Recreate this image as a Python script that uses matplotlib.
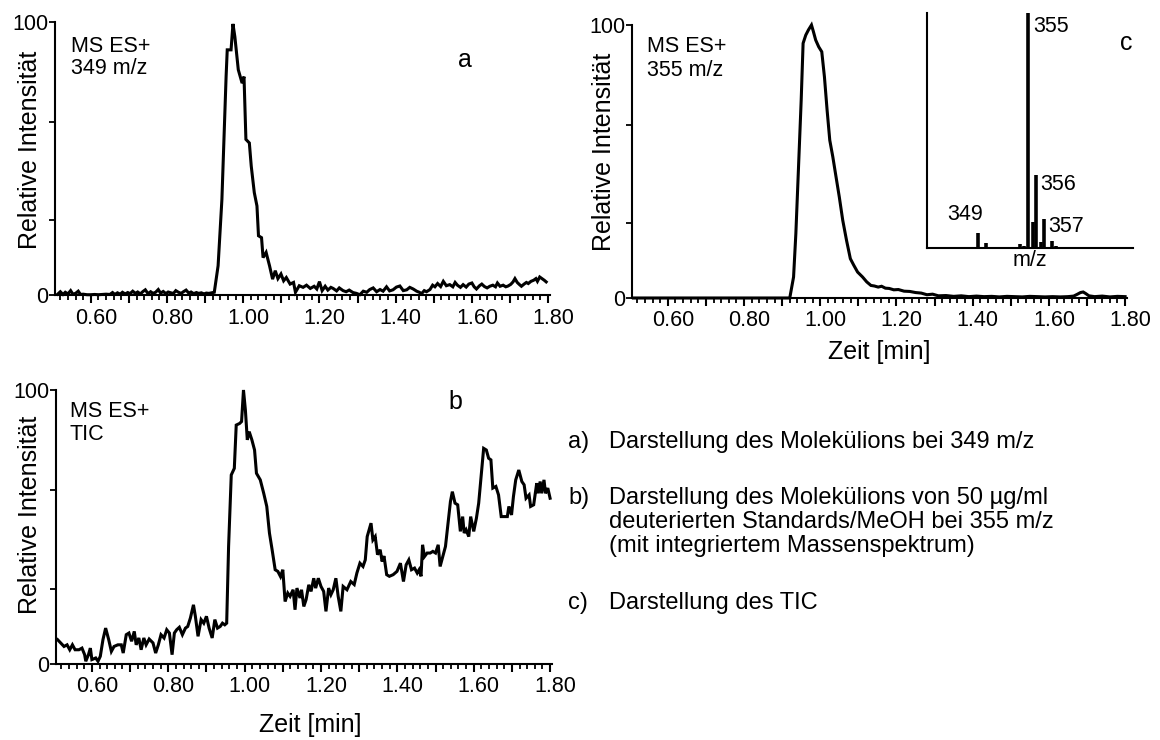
import numpy as np
import matplotlib
matplotlib.use("Agg")
import matplotlib.pyplot as plt
from matplotlib.ticker import MultipleLocator, FuncFormatter
from matplotlib.transforms import ScaledTranslation

plt.rcParams['font.family'] = ['Liberation Sans', 'DejaVu Sans']

# ---- data ----
# a) 349 m/z chromatogram
a_t = [0.513, 0.52, 0.527, 0.533, 0.54, 0.547, 0.553, 0.56, 0.567, 0.573, 0.58, 0.59, 0.60, 0.61,
       0.62, 0.63, 0.64, 0.65, 0.657, 0.663, 0.67, 0.677, 0.683, 0.69, 0.697, 0.703, 0.71, 0.717,
       0.723, 0.73, 0.737, 0.743, 0.75, 0.757, 0.763, 0.77, 0.777, 0.783, 0.79, 0.797, 0.803, 0.81,
       0.817, 0.823, 0.83, 0.837, 0.843, 0.85, 0.857, 0.863, 0.87, 0.877, 0.883, 0.89, 0.897, 0.903,
       0.91, 0.917, 0.924, 0.934, 0.944, 0.955, 0.958, 0.968, 0.973, 0.978, 0.987, 0.997, 1.002,
       1.007, 1.016, 1.021, 1.029, 1.036, 1.04, 1.048, 1.052, 1.06, 1.069, 1.077, 1.084, 1.091, 1.099,
       1.106, 1.113, 1.123, 1.132, 1.137, 1.147, 1.157, 1.166, 1.176, 1.186, 1.193, 1.2, 1.207, 1.215,
       1.222, 1.23, 1.236, 1.245, 1.252, 1.262, 1.27, 1.278, 1.288, 1.297, 1.306, 1.315, 1.324, 1.332,
       1.341, 1.35, 1.359, 1.367, 1.376, 1.384, 1.393, 1.402, 1.411, 1.42, 1.429, 1.437, 1.446, 1.455,
       1.462, 1.468, 1.475, 1.481, 1.49, 1.497, 1.503, 1.51, 1.518, 1.525, 1.533, 1.542, 1.55, 1.556,
       1.562, 1.57, 1.577, 1.585, 1.592, 1.6, 1.606, 1.612, 1.62, 1.626, 1.633, 1.64, 1.647, 1.655,
       1.662, 1.667, 1.674, 1.682, 1.689, 1.695, 1.702, 1.708, 1.713, 1.719, 1.725, 1.73, 1.737, 1.743,
       1.748, 1.755, 1.762, 1.768, 1.772, 1.778, 1.784, 1.79, 1.795]
a_y = [0.3, 1.2, 0.2, 1.0, 0.4, 1.6, 0.3, 0.6, 1.4, 0.2, 0.3, 0.1, 0.1, 0.2,
       0.1, 0.2, 0.3, 0.2, 0.9, 0.2, 0.8, 0.3, 1.0, 0.4, 0.9, 0.5, 1.4, 0.6,
       1.1, 0.4, 1.3, 1.9, 0.5, 1.2, 0.6, 1.0, 2.0, 0.7, 1.3, 0.5, 1.1, 0.8,
       0.6, 1.6, 1.0, 0.6, 1.2, 1.8, 0.7, 1.1, 0.5, 0.9, 0.6, 0.8, 0.4, 0.7,
       0.6, 0.8, 1.0, 10.7, 35, 80, 89.8, 89.8, 99.3, 94.6, 82.5, 77.6, 80,
       57, 55.7, 47.2, 37.5, 32.6, 21.7, 21, 13.7, 15.6, 10.7, 5.8, 8.9, 6, 7.7,
       5.2, 6.4, 4, 4.6, 1, 3.4, 2.8, 3.6, 2.4, 3.2, 2.2, 4.9, 1.6, 3.2,
       1.8, 2.8, 2.4, 1.5, 2.6, 1.6, 1.2, 1.8, 0.9, 0.6, 0.1, 1.4, 1.0, 2.0,
       2.6, 1.2, 2.0, 1.4, 3.0, 1.5, 1.9, 2.9, 3.3, 1.6, 1.9, 2.8, 2.2, 1.4,
       1.0, 0.5, 1.6, 1.2, 2.0, 3.6, 3.0, 4.2, 3.1, 5.0, 3.4, 3.8, 3.0, 4.6,
       3.6, 2.8, 3.8, 2.9, 4.0, 4.4, 3.0, 2.2, 3.4, 4.0, 3.1, 2.6, 3.2, 3.6,
       3.0, 4.4, 3.2, 3.6, 3.0, 3.3, 3.9, 4.8, 6.0, 4.6, 3.8, 3.2, 4.0, 4.6,
       4.2, 5.0, 5.4, 6.0, 5.0, 6.6, 6.0, 5.4, 4.8]

# b) TIC
b_t = [0.51, 0.518, 0.527, 0.535, 0.542, 0.549, 0.556, 0.566, 0.574, 0.581, 0.584, 0.591, 0.596,
       0.60, 0.61, 0.616, 0.622, 0.629, 0.636, 0.644, 0.651, 0.658, 0.668, 0.677, 0.682, 0.69,
       0.697, 0.704, 0.711, 0.716, 0.723, 0.729, 0.736, 0.742, 0.75, 0.76, 0.767, 0.774, 0.781,
       0.789, 0.796, 0.803, 0.81, 0.816, 0.822, 0.829, 0.837, 0.845, 0.851, 0.858, 0.866, 0.871,
       0.878, 0.886, 0.893, 0.90, 0.907, 0.915, 0.922, 0.929, 0.936, 0.942, 0.948, 0.953, 0.958,
       0.965, 0.973, 0.978, 0.987, 0.992, 0.997, 1.002, 1.007, 1.012, 1.019, 1.026, 1.031, 1.041,
       1.05, 1.058, 1.065, 1.072, 1.08, 1.087, 1.094, 1.10, 1.106, 1.113, 1.119, 1.127, 1.132,
       1.137, 1.145, 1.149, 1.155, 1.161, 1.168, 1.174, 1.181, 1.186, 1.193, 1.20, 1.207, 1.213,
       1.22, 1.226, 1.232, 1.239, 1.245, 1.252, 1.258, 1.268, 1.278, 1.287, 1.294, 1.302, 1.31,
       1.316, 1.321, 1.331, 1.336, 1.342, 1.348, 1.355, 1.36, 1.365, 1.372, 1.379, 1.389, 1.399,
       1.408, 1.416, 1.423, 1.43, 1.437, 1.445, 1.452, 1.457, 1.462, 1.466, 1.471, 1.478, 1.486,
       1.493, 1.50, 1.507, 1.512, 1.519, 1.526, 1.534, 1.539, 1.544, 1.551, 1.558, 1.565, 1.571,
       1.575, 1.58, 1.587, 1.592, 1.60, 1.607, 1.613, 1.621, 1.626, 1.633, 1.639, 1.645, 1.65,
       1.658, 1.665, 1.672, 1.68, 1.688, 1.692, 1.699, 1.704, 1.71, 1.718, 1.726, 1.732, 1.737,
       1.745, 1.749, 1.757, 1.765, 1.769, 1.774, 1.778, 1.784, 1.788, 1.794, 1.80]
b_y = [8.9, 7.7, 6.4, 7.0, 5.2, 7.0, 5.2, 5.2, 5.8, 3.4, 1.0, 3.4, 5.8,
       1.6, 2.2, 1.0, 2.8, 8.9, 13.1, 8.9, 4.6, 6.4, 7.0, 7.0, 4.0, 10.7,
       11.3, 8.3, 11.9, 7.0, 9.5, 5.2, 9.5, 7.0, 9.1, 7.7, 4.0, 7.0, 10.7,
       9.5, 12.5, 11.3, 3.4, 11.3, 12.5, 13.4, 10.7, 13.1, 13.7, 16.8, 21.6, 17.4,
       10.1, 16.2, 14.9, 17.4, 13.1, 9.5, 16.2, 13.1, 13.7, 14.9, 14.3, 14.9, 42.9,
       69.0, 71.4, 87.2, 87.8, 88.5, 100.0, 92.7, 81.8, 84.8, 81.8, 78.1, 69.6, 67.2,
       62.3, 57.5, 47.8, 41.7, 34.4, 33.8, 31.9, 34.4, 22.8, 25.9, 24.7, 27.1, 19.8,
       27.7, 24.1, 27.1, 21.0, 23.5, 28.9, 26.5, 31.3, 27.7, 31.3, 28.3, 26.5, 19.2,
       27.7, 25.3, 27.1, 31.3, 24.7, 19.2, 28.3, 27.1, 30.1, 29.0, 33.2, 36.8, 35.6,
       38.0, 46.5, 51.4, 45.3, 46.5, 39.9, 41.7, 37.4, 39.4, 32.6, 32.0, 32.6, 33.8,
       36.8, 30.1, 36.2, 38.0, 34.4, 35.0, 33.2, 34.4, 32.0, 43.5, 39.2, 40.5, 40.5,
       41.1, 40.5, 43.5, 35.6, 39.2, 42.9, 53.2, 59.3, 62.9, 58.7, 58.1, 48.4, 53.8,
       47.8, 49.0, 46.5, 53.8, 48.4, 53.2, 58.7, 70.8, 78.7, 78.1, 75.1, 74.5, 64.2,
       64.8, 61.7, 53.8, 53.8, 53.8, 57.5, 54.4, 61.1, 67.2, 70.8, 66.6, 65.4, 60.5,
       61.7, 57.5, 58.1, 66.0, 62.3, 66.6, 62.3, 67.2, 62.3, 64.2, 60.5]

# c) 355 m/z chromatogram
c_t = [0.51, 0.92, 0.930, 0.936, 0.943, 0.950, 0.955, 0.962, 0.969, 0.977, 0.982, 0.988, 0.996,
       1.004, 1.011, 1.018, 1.025, 1.033, 1.04, 1.05, 1.059, 1.069, 1.079, 1.088, 1.098, 1.111,
       1.122, 1.133, 1.142, 1.152, 1.161, 1.171, 1.181, 1.193, 1.205, 1.22, 1.235, 1.25, 1.265,
       1.28, 1.295, 1.31, 1.33, 1.35, 1.37, 1.39, 1.41, 1.43, 1.45, 1.47, 1.49, 1.51, 1.53, 1.55,
       1.57, 1.59, 1.61, 1.63, 1.65, 1.665, 1.675, 1.683, 1.69, 1.697, 1.705, 1.72, 1.74, 1.76,
       1.78, 1.80]
c_y = [0, 0, 7.7, 23.6, 48, 72.5, 93.3, 96.3, 98.2, 100, 97.6, 94.5, 92,
       90.2, 81, 68.8, 57.8, 51.7, 45.6, 37, 28.5, 21.1, 14.4, 12, 9.5, 7.7,
       5.9, 4.6, 4.4, 4.0, 4.3, 3.6, 3.5, 3.0, 3.1, 2.5, 2.4, 2.0, 1.8,
       1.2, 1.4, 0.8, 0.9, 0.6, 0.8, 0.5, 0.7, 0.5, 0.6, 0.4, 0.6, 0.5, 0.4, 0.6,
       0.5, 0.4, 0.5, 0.4, 0.5, 0.7, 1.4, 2.0, 2.2, 1.6, 0.8, 0.5, 0.7, 0.4,
       0.6, 0.5]

# inset mass spectrum
ms_mz = [349, 350, 352.5, 353, 353.5, 354.1, 354.6, 355, 355.7, 356, 356.6, 357, 358, 358.5,
         359, 359.5, 360, 360.5, 361, 361.5]
ms_int = [6.6, 2.4, 0.5, 0.6, 0.5, 2.0, 0.8, 100, 11, 31, 2.5, 12.3, 3.2, 0.8,
          0.6, 0.5, 0.6, 0.4, 0.6, 0.5]
ms_labels = ["349", "355", "356", "357"]

yticks_pos = [0, 27.3, 63.5, 100]

W, H = 1160, 740
fig = plt.figure(figsize=(W / 100, H / 100), dpi=100)


def box(l, t, r, b):
    return [l / W, 1 - b / H, (r - l) / W, (b - t) / H]


def ftext(x, y, s, **kw):
    fig.text(x / W, 1 - y / H, s, **kw)


def label_fmt(v, pos):
    k = int(round(v * 10))
    return "%.2f" % v if k % 2 == 0 else ""


def chrom_axes(rect, t, y):
    ax = fig.add_axes(rect)
    ax.plot(t, y, color='black', lw=2.2, clip_on=False, solid_joinstyle='miter')
    ax.set_xlim(0.506, 1.805)
    ax.set_ylim(0, 100)
    for s in ['top', 'right']:
        ax.spines[s].set_visible(False)
    for s in ['left', 'bottom']:
        ax.spines[s].set_linewidth(1.5)
    ax.xaxis.set_major_locator(MultipleLocator(0.1))
    ax.xaxis.set_minor_locator(MultipleLocator(0.02))
    ax.xaxis.set_major_formatter(FuncFormatter(label_fmt))
    ax.tick_params(axis='x', which='major', length=6, width=1.5, labelsize=15.5, pad=3)
    ax.tick_params(axis='x', which='minor', length=3.5, width=1.3)
    ax.set_yticks(yticks_pos)
    ax.set_yticklabels(['0', '', '', '100'])
    ax.tick_params(axis='y', length=4, width=1.3, labelsize=15.5, pad=1)
    off = ScaledTranslation(5 / 100, 0, fig.dpi_scale_trans)
    for lab in ax.get_xticklabels():
        lab.set_transform(lab.get_transform() + off)
    return ax


ax_a = chrom_axes(box(55, 22, 550, 295), a_t, a_y)
ax_b = chrom_axes(box(56, 390, 552, 664), b_t, b_y)
ax_c = chrom_axes(box(632, 25, 1127, 298), c_t, c_y)

# inset
ax_i = fig.add_axes(box(927, 12.7, 1133, 248.3))
ax_i.vlines(ms_mz, 0, ms_int, color='black', lw=2.6)
ax_i.set_xlim(342.8, 367.8)
ax_i.set_ylim(0, 100)
for s in ['top', 'right']:
    ax_i.spines[s].set_visible(False)
for s in ['left', 'bottom']:
    ax_i.spines[s].set_linewidth(1.5)
ax_i.set_xticks([])
ax_i.set_yticks([])
ax_i.patch.set_alpha(0)

fs = 15.5
ftext(1033, 27, ms_labels[1], fontsize=fs, va='center')
ftext(1040, 185, ms_labels[2], fontsize=fs, va='center')
ftext(1048, 226, ms_labels[3], fontsize=fs, va='center')
ftext(965, 215, ms_labels[0], fontsize=fs, va='center', ha='center')
ftext(1030, 260, "m/z", fontsize=fs, va='center', ha='center')

# panel annotations
ftext(70.7, 46.7, "MS ES+", fontsize=fs, va='center')
ftext(70.7, 68.3, "349 m/z", fontsize=fs, va='center')
ftext(465, 60, "a", fontsize=18, va='center', ha='center')

ftext(70, 411.7, "MS ES+", fontsize=fs, va='center')
ftext(70, 435, "TIC", fontsize=fs, va='center')
ftext(455, 401.7, "b", fontsize=18, va='center', ha='center')

ftext(646.7, 46.7, "MS ES+", fontsize=fs, va='center')
ftext(646.7, 70, "355 m/z", fontsize=fs, va='center')
ftext(1126, 43, "c", fontsize=18, va='center', ha='center')

# axis labels
ftext(29.6, 150, "Relative Intensität", fontsize=18, rotation=90, va='center', ha='center')
ftext(29.6, 515, "Relative Intensität", fontsize=18, rotation=90, va='center', ha='center')
ftext(604, 152, "Relative Intensität", fontsize=18, rotation=90, va='center', ha='center')
ftext(879, 351.7, "Zeit [min]", fontsize=18, va='center', ha='center')
ftext(310, 725, "Zeit [min]", fontsize=18, va='center', ha='center')

# legend text
desc = [
    ("a)", ["Darstellung des Molekülions bei 349 m/z"], 448),
    ("b)", ["Darstellung des Molekülions von 50 µg/ml",
            "deuterierten Standards/MeOH bei 355 m/z",
            "(mit integriertem Massenspektrum)"], 504),
    ("c)", ["Darstellung des TIC"], 609),
]
for tag, lines, base in desc:
    ftext(568, base, tag, fontsize=17, va='baseline')
    for i, ln in enumerate(lines):
        ftext(609, base + i * 24, ln, fontsize=17, va='baseline')

fig.savefig("out.png", dpi=100)
